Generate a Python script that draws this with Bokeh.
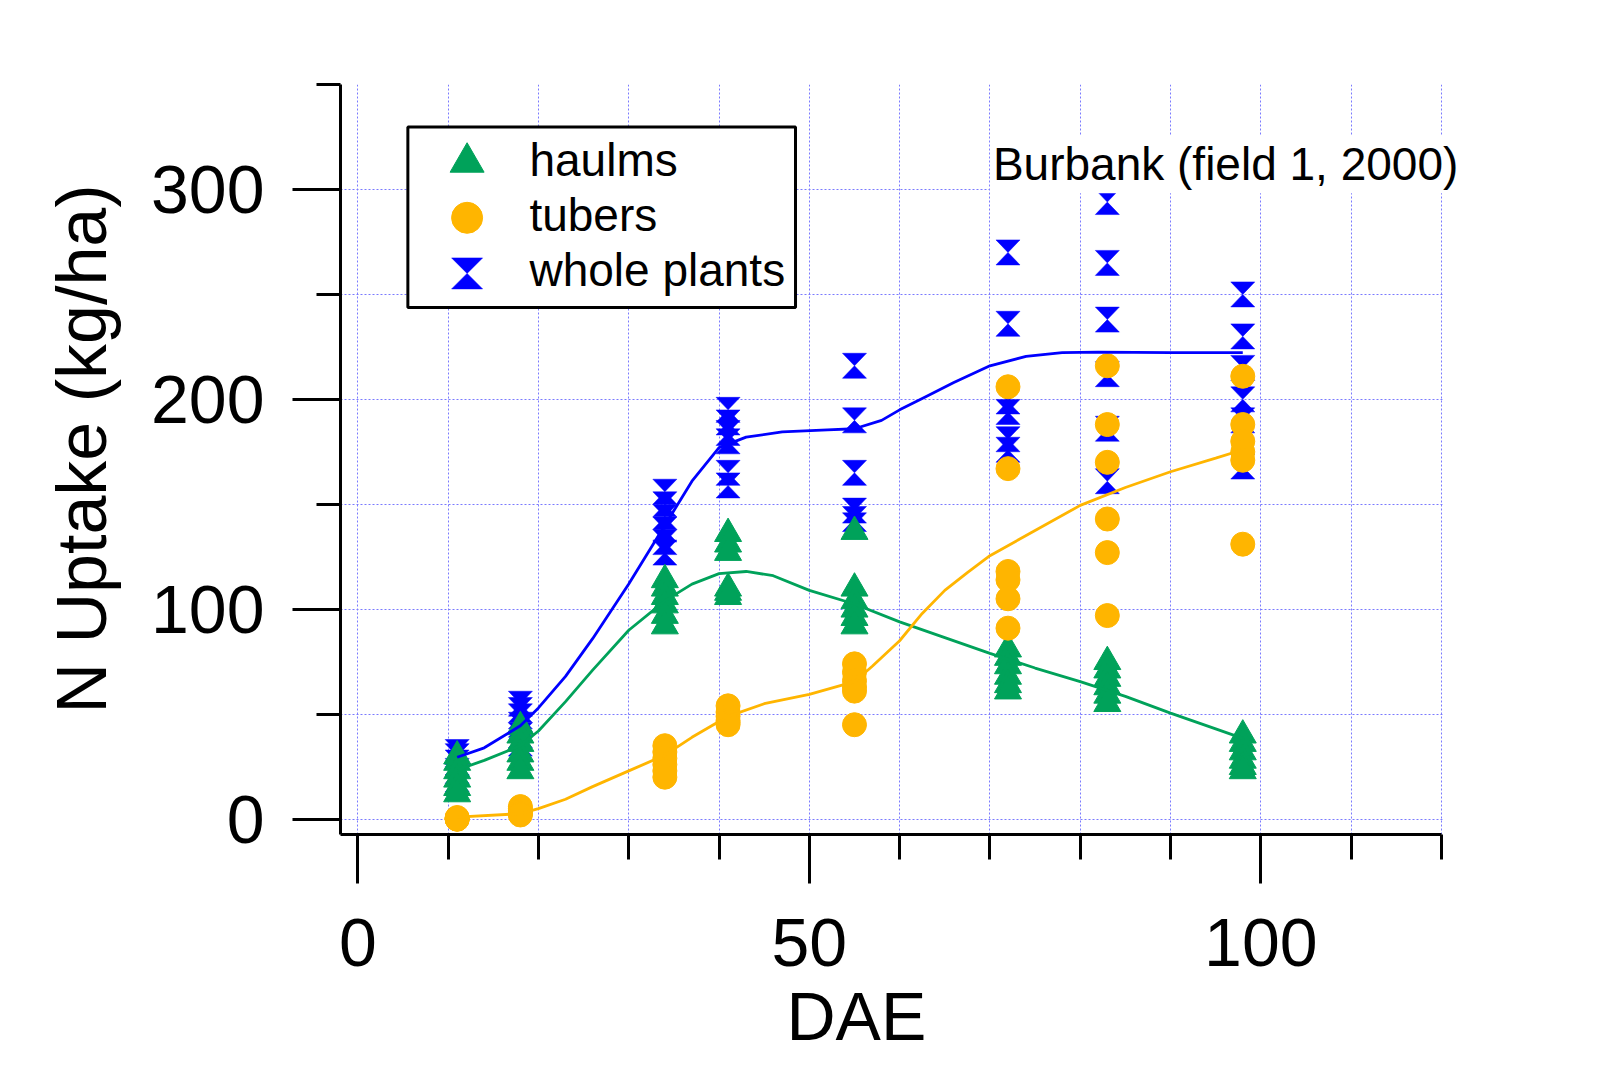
import numpy as np
from bokeh.plotting import figure
from bokeh.models import FixedTicker, Label, Range1d, Title
from bokeh.core.properties import value
from bokeh.embed import file_html
from bokeh.resources import INLINE

# ---------------- data ----------------
dae = [11, 18, 34, 41, 55, 72, 83, 98]

haulms = [
    [30, 27, 23, 19, 15, 12],
    [44, 40, 36, 31, 27, 23],
    [114, 110, 106, 102, 97, 92],
    [136, 131, 127, 110, 108, 106],
    [137, 110, 104, 100, 96, 92],
    [81, 77, 73, 68, 64, 61],
    [75, 71, 67, 63, 59, 55],
    [40, 36, 32, 28, 25, 23],
]
tubers = [
    [0.8, 0.5, 0.3, 0.2, 0, 0],
    [6, 5, 4, 3, 2.5, 2],
    [35, 32, 29, 26, 23, 20],
    [54, 51, 49, 47, 46, 45],
    [74, 70, 66, 63, 61, 45],
    [206, 167, 118, 114, 105, 91],
    [216, 188, 170, 143, 127, 97],
    [211, 188, 180, 175, 171, 131],
]
whole_plants = [
    [32, 30, 27, 23, 19, 15],
    [55, 52, 49, 45, 40, 36],
    [156, 150, 144, 138, 132, 127],
    [195, 189, 184, 180, 165, 159],
    [216, 190, 165, 147, 143, 140],
    [270, 236, 199, 194, 181, 176],
    [294, 265, 238, 212, 186, 161],
    [250, 230, 215, 200, 190, 168],
]

fit_x_whole = [11, 14, 18, 20, 23, 26, 30, 34, 37, 40, 43, 47, 52, 55, 58, 60, 63, 66, 70, 74, 78, 82, 90, 98]
fit_whole = [29.5, 34, 44.5, 53, 68, 86, 112, 140, 161, 177, 182, 184.5, 185.5, 186, 190, 195, 201.5, 208, 216, 220.5, 222.3, 222.5, 222.3, 222.3]

fit_x_haulms = [11, 14, 18, 20, 23, 26, 30, 34, 37, 40, 43, 46, 50, 55, 60, 65, 70, 75, 80, 85, 90, 95, 98]
fit_haulms = [23.5, 28, 35, 42, 56, 71, 90, 104, 112, 117, 118, 116, 109, 102.5, 94, 86.5, 79, 72, 65.5, 58.5, 50.5, 43, 38.5]

fit_x_tubers = [11, 18, 20, 23, 26, 30, 34, 37, 41, 45, 50, 55, 57, 60, 62.5, 65, 67.5, 70, 75, 80, 85, 90, 95, 98]
fit_tubers = [1, 2.6, 5, 9.5, 15.5, 23, 30.5, 39, 49, 55, 59.5, 65.5, 73, 85, 98, 109, 117.5, 125.5, 137.5, 149.5, 158, 165.5, 172, 176]

series_names = ["haulms", "tubers", "whole plants"]
x_ticks = [0, 50, 100]
x_minor_ticks = [10, 20, 30, 40, 60, 70, 80, 90, 110, 120]
y_ticks = [0, 100, 200, 300]
y_minor_ticks = [50, 150, 250, 350]
x_title = "DAE"
y_title = "N Uptake (kg/ha)"
note_text = "Burbank (field 1, 2000)"

# ---------------- styles / layout ----------------
GREEN = "#00a25a"
ORANGE = "#ffb500"
BLUE = "#0000ff"
GRID = "#7a7aff"
FONT = "Liberation Sans"

W, H = 1590, 1075
X0, X_AXIS_END = -1.92, 120.0
Y0, Y1 = -7.3, 350.0
PX_PER_X = 9.03
FRAME_L, FRAME_T, FRAME_B = 340, 84, 834
FRAME_R = 1456                       # a little past the axis end so the note is not clipped
X1 = X0 + (FRAME_R - FRAME_L) / PX_PER_X
PX_X = PX_PER_X
PX_Y = (FRAME_B - FRAME_T) / (Y1 - Y0)


def flat(groups):
    xs = [d for d, vals in zip(dae, groups) for _ in vals]
    ys = [v for vals in groups for v in vals]
    return xs, ys


def hourglass(xs, ys, half_w_px, half_h_px):
    dx = half_w_px / PX_X
    dy = half_h_px / PX_Y
    px, py = [], []
    for x, y in zip(xs, ys):
        px.append([x - dx, x + dx, x, x + dx, x - dx, x])
        py.append([y + dy, y + dy, y, y - dy, y - dy, y])
    return px, py


p = figure(width=W, height=H, x_range=Range1d(X0, X1), y_range=Range1d(Y0, Y1),
           output_backend="svg", toolbar_location=None,
           min_border_left=FRAME_L, min_border_right=W - FRAME_R,
           min_border_top=FRAME_T, min_border_bottom=H - FRAME_B,
           background_fill_color="white", border_fill_color="white",
           outline_line_color=None)

# axes
p.xaxis.ticker = FixedTicker(ticks=x_ticks, minor_ticks=x_minor_ticks)
p.yaxis.ticker = FixedTicker(ticks=y_ticks, minor_ticks=y_minor_ticks)
p.xaxis.bounds = (X0, X_AXIS_END)
for ax, maj, mnr, so in ((p.xaxis, 49, 25, 35), (p.yaxis, 48, 24, 28)):
    ax.axis_line_width = 3
    ax.axis_line_color = "black"
    ax.major_tick_line_width = 3
    ax.minor_tick_line_width = 3
    ax.major_tick_line_color = "black"
    ax.minor_tick_line_color = "black"
    ax.major_tick_in = 0
    ax.minor_tick_in = 0
    ax.major_tick_out = maj
    ax.minor_tick_out = mnr
    ax.major_label_text_font = FONT
    ax.major_label_text_font_size = "68px"
    ax.major_label_text_color = "black"
    ax.major_label_standoff = so

# axis titles as offset titles
p.add_layout(Title(text=x_title, align="left", offset=446, standoff=15,
                   text_font=FONT, text_font_size="68px",
                   text_font_style="normal", text_color="black"), "below")
p.add_layout(Title(text=y_title, align="left", offset=121, standoff=55,
                   text_font=FONT, text_font_size="70px",
                   text_font_style="normal", text_color="black"), "left")

for g in (p.xgrid, p.ygrid):
    g.grid_line_color = GRID
    g.grid_line_dash = "2 2"
    g.grid_line_width = 1
    g.minor_grid_line_color = GRID
    g.minor_grid_line_dash = "2 2"
    g.minor_grid_line_width = 1

# white mask over the strip right of the axis end (keeps gridlines ending at 120)
p.quad(left=[X_AXIS_END + 0.15], right=[X1 + 1], bottom=[Y0 - 1], top=[Y1 + 1],
       fill_color="white", line_color=None)

# data markers
wx, wy = flat(whole_plants)
hx_, hy_ = hourglass(wx, wy, 12, 12.5)
p.patches(hx_, hy_, fill_color=BLUE, line_color=BLUE, line_width=0.5)

hx, hy = flat(haulms)
p.scatter(hx, hy, marker="triangle", size=27, fill_color=GREEN, line_color=GREEN)

tx, ty = flat(tubers)
p.scatter(tx, ty, marker="circle", size=24, fill_color=ORANGE, line_color=ORANGE)

# fitted curves
p.line(fit_x_haulms, fit_haulms, line_color=GREEN, line_width=2.8)
p.line(fit_x_tubers, fit_tubers, line_color=ORANGE, line_width=2.8)
p.line(fit_x_whole, fit_whole, line_color=BLUE, line_width=2.8)

# legend box (data-coordinate placement)
LEG_L, LEG_R, LEG_T, LEG_B = 5.54, 48.47, 329.8, 243.8
LEG_MX = 12.1
LEG_MY = [312.9, 286.5, 260.0]
LEG_TX = 19.0
LEG_TY = [313.9, 287.7, 261.4]
p.quad(left=[LEG_L], right=[LEG_R], top=[LEG_T], bottom=[LEG_B],
       fill_color="white", line_color="black", line_width=3)
p.scatter([LEG_MX], [LEG_MY[0]], marker="triangle", size=34, fill_color=GREEN, line_color=GREEN)
p.scatter([LEG_MX], [LEG_MY[1]], marker="circle", size=31, fill_color=ORANGE, line_color=ORANGE)
lgx, lgy = hourglass([LEG_MX], [LEG_MY[2]], 15.5, 15.5)
p.patches(lgx, lgy, fill_color=BLUE, line_color=BLUE, line_width=0.5)
p.text(x=[LEG_TX] * 3, y=LEG_TY, text=series_names, text_font=value(FONT),
       text_font_size="46px", text_baseline="middle", text_align="left",
       text_color="black")

# annotation text
p.add_layout(Label(x=70.0, y=312.0, text=note_text, text_font=FONT,
                   text_font_size="46px", text_baseline="middle",
                   text_align="left", text_color="black",
                   background_fill_color="white", padding=3))

open("out.html", "w").write(file_html(p, INLINE))
